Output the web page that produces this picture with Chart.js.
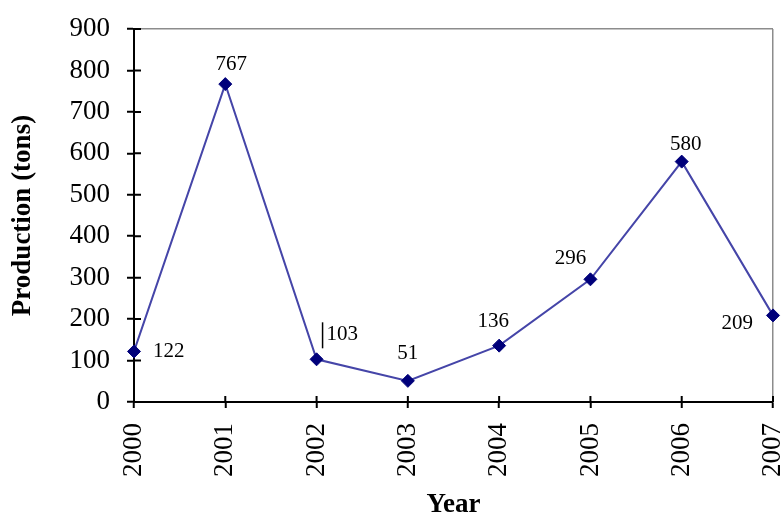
<!DOCTYPE html>
<html>
<head>
<meta charset="utf-8">
<script src="https://cdn.jsdelivr.net/npm/chart.js@4.4.1/dist/chart.umd.min.js"></script>
<style>
  html,body{margin:0;padding:0;background:#fff;}
  #wrap{width:781px;height:519px;}
</style>
</head>
<body>
<div id="wrap"><canvas id="c"></canvas></div>
<script>
// ---------- data ----------
const years = ['2000','2001','2002','2003','2004','2005','2006','2007'];
const production = [122, 767, 103, 51, 136, 296, 580, 209];
const yTicks = [0,100,200,300,400,500,600,700,800,900];

// label placement per point (dx, dy, align)
const labelPos = [
  [19, 0, 'left'], [6, -20, 'center'], [10, -25, 'left'], [0, -27, 'center'],
  [-6, -24, 'center'], [-20, -21, 'center'], [4, -17, 'center'], [-20, 8, 'right']
];

const SERIF = '"Liberation Serif", "DejaVu Serif", serif';

// data labels + cross ticks + the little bar beside 103
const decor = {
  id: 'decor',
  afterDatasetsDraw(chart) {
    const {ctx, chartArea: a, scales: {x, y}} = chart;
    ctx.save();
    ctx.strokeStyle = '#000'; ctx.lineWidth = 2;
    ctx.beginPath();
    y.ticks.forEach((t, i) => { const py = y.getPixelForTick(i); ctx.moveTo(a.left, py); ctx.lineTo(a.left + 7, py); });
    x.ticks.forEach((t, i) => { const px = x.getPixelForTick(i); ctx.moveTo(px, a.bottom); ctx.lineTo(px, a.bottom - 6); });
    ctx.stroke();

    const meta = chart.getDatasetMeta(0);
    ctx.font = '21px ' + SERIF;
    ctx.fillStyle = '#000';
    ctx.textBaseline = 'middle';
    meta.data.forEach((pt, i) => {
      const [dx, dy, al] = labelPos[i];
      ctx.textAlign = al;
      ctx.fillText(String(production[i]), pt.x + dx, pt.y + dy);
      if (i === 2) {
        ctx.lineWidth = 1.5;
        ctx.beginPath(); ctx.moveTo(pt.x + 6, pt.y - 37); ctx.lineTo(pt.x + 6, pt.y - 11); ctx.stroke();
      }
    });
    ctx.restore();
  }
};

new Chart(document.getElementById('c'), {
  type: 'line',
  data: {
    labels: years,
    datasets: [{
      data: production,
      borderColor: '#4545a8',
      borderWidth: 2,
      pointStyle: 'rectRot',
      pointRadius: 6.5,
      pointBackgroundColor: '#00007a',
      pointBorderColor: '#00007a',
      pointBorderWidth: 1,
      tension: 0,
      clip: false
    }]
  },
  options: {
    responsive: true,
    maintainAspectRatio: false,
    animation: false,
    layout: {padding: {left: 0, right: 8, top: 29, bottom: 0}},
    plugins: {legend: {display: false}, tooltip: {enabled: false}},
    scales: {
      x: {
        type: 'category',
        offset: false,
        afterFit: s => { s.height = 117; s.paddingLeft = 0; s.paddingRight = 0; },
        border: {color: '#000', width: 2},
        grid: {
          drawOnChartArea: true,
          color: c => c.index === years.length - 1 ? '#8c8c8c' : 'transparent',
          lineWidth: 1.5,
          tickColor: '#000',
          tickWidth: 2,
          tickLength: 6
        },
        ticks: {
          color: '#000', font: {family: SERIF, size: 27, lineHeight: 1},
          minRotation: 90, maxRotation: 90, padding: 15, autoSkip: false
        },
        title: {
          display: true, text: 'Year', color: '#000',
          font: {family: SERIF, size: 27, weight: 'bold', lineHeight: 1},
          padding: {top: 0, bottom: 0}
        }
      },
      y: {
        min: 0, max: 900,
        afterFit: s => { s.width = 134; s.paddingTop = 0; s.paddingBottom = 0; },
        afterBuildTicks: s => { s.ticks = yTicks.map(v => ({value: v})); },
        border: {color: '#000', width: 2},
        grid: {
          drawOnChartArea: true,
          color: c => c.tick && c.tick.value === 900 ? '#8c8c8c' : 'transparent',
          lineWidth: 1.5,
          tickColor: '#000',
          tickWidth: 2,
          tickLength: 7
        },
        ticks: {color: '#000', font: {family: SERIF, size: 27, lineHeight: 1}, padding: 17},
        title: {
          display: true, text: 'Production (tons)', color: '#000',
          font: {family: SERIF, size: 27, weight: 'bold', lineHeight: 1},
          padding: {top: 10, bottom: 0}
        }
      }
    }
  },
  plugins: [decor]
});
</script>
</body>
</html>
